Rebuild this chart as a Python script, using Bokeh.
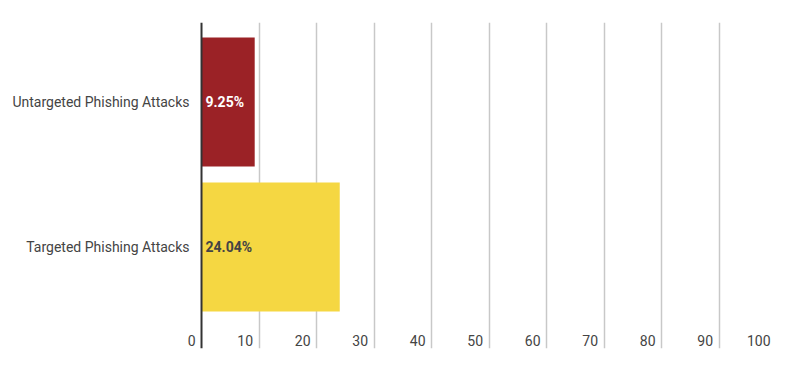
from bokeh.plotting import figure
from bokeh.models import FixedTicker, Span, ColumnDataSource, Range1d
from bokeh.core.properties import value
from bokeh.embed import file_html
from bokeh.resources import INLINE

categories = ["Untargeted Phishing Attacks", "Targeted Phishing Attacks"]
values = [9.25, 24.04]
value_labels = ["9.25%", "24.04%"]
bar_colors = ["#9b2226", "#f5d742"]
label_colors = ["#ffffff", "#444444"]
x_ticks = [0, 10, 20, 30, 40, 50, 60, 70, 80, 90, 100]

positions = [1, 0]
# the x range extends left of 0 to leave room for the category labels
X_START, X_END = -34.96, 100

p = figure(width=792, height=371, output_backend="svg", toolbar_location=None,
           x_range=Range1d(X_START, X_END), y_range=Range1d(-0.7, 1.548),
           x_axis_location=None, y_axis_location=None,
           min_border_left=0, min_border_right=16,
           min_border_top=22, min_border_bottom=23)
p.outline_line_color = None
p.ygrid.visible = False
p.xgrid.ticker = FixedTicker(ticks=x_ticks[1:-1])
p.xgrid.grid_line_color = "#c8c8c8"
p.xgrid.grid_line_width = 1.5

src = ColumnDataSource(dict(y=positions, v=values, c=bar_colors, lab=value_labels,
                            lc=label_colors, cat=categories))
p.hbar(y="y", right="v", left=0, height=0.89, fill_color="c", line_color=None, source=src)
p.text(x=0, y="y", text="lab", text_color="lc", source=src, x_offset=4,
       text_font=value("Roboto"), text_font_size="14px", text_font_style="bold",
       text_baseline="middle", text_align="left")
p.text(x=0, y="y", text="cat", source=src, x_offset=-12,
       text_font=value("Roboto"), text_font_size="14px", text_color="#444444",
       text_baseline="middle", text_align="right")

p.add_layout(Span(location=0, dimension="height", line_color="#333333", line_width=2))

tsrc = ColumnDataSource(dict(x=x_ticks, y=[-0.645] * len(x_ticks), t=[str(t) for t in x_ticks]))
p.text(x="x", y="y", text="t", source=tsrc, x_offset=-6, text_align="right",
       text_baseline="middle", text_font=value("Roboto"), text_font_size="14px",
       text_color="#444444")

open("out.html", "w").write(file_html(p, INLINE))
